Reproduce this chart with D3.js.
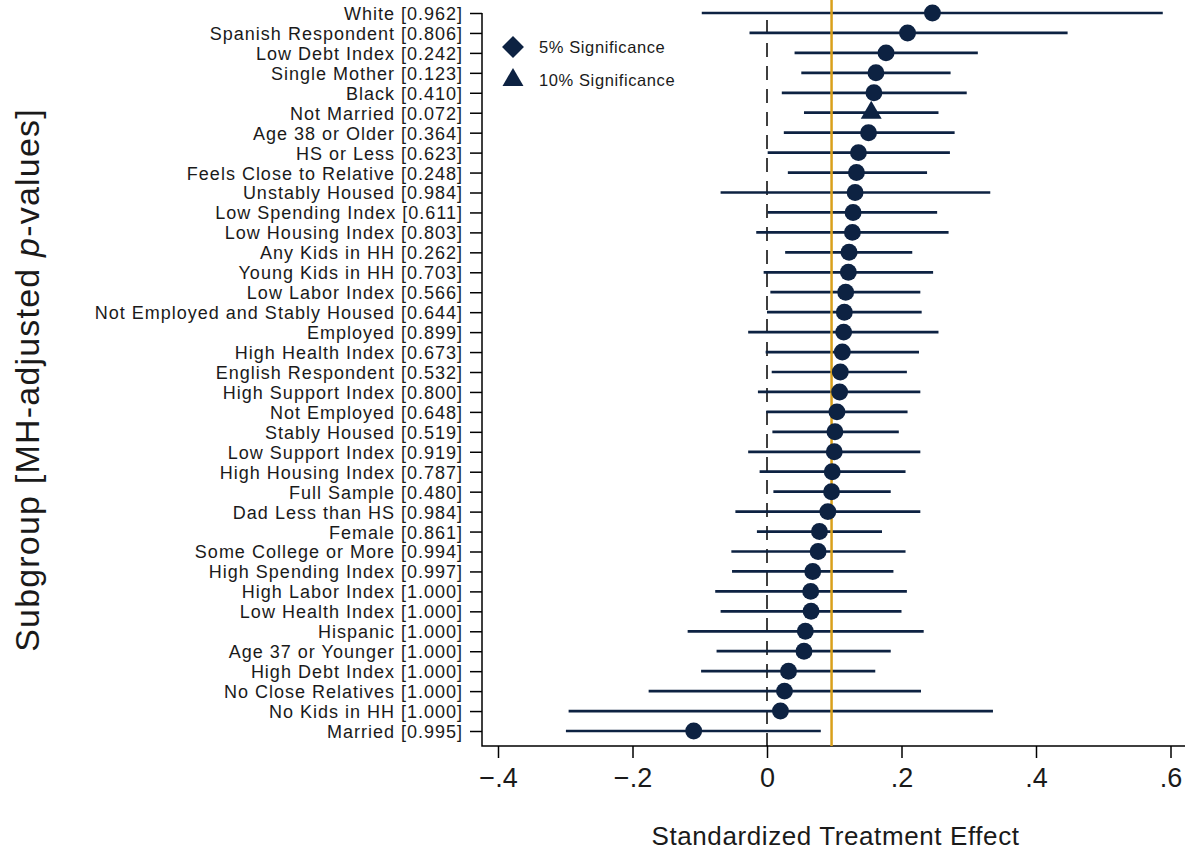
<!DOCTYPE html>
<meta charset="utf-8">
<head>
    <script src="https://d3js.org/d3.v7.min.js"></script>
    <style>
        body { margin: 0; background: #fff; }
        svg text { font-family: "Liberation Sans", Arial, sans-serif; fill: #1a1a1a; }
    </style>
</head>
<body>
<div id="viz"></div>
<script>
    // subgroups, top to bottom
    var groups = ["White", "Spanish Respondent", "Low Debt Index", "Single Mother", "Black", "Not Married",
        "Age 38 or Older", "HS or Less", "Feels Close to Relative", "Unstably Housed", "Low Spending Index",
        "Low Housing Index", "Any Kids in HH", "Young Kids in HH", "Low Labor Index",
        "Not Employed and Stably Housed", "Employed", "High Health Index", "English Respondent",
        "High Support Index", "Not Employed", "Stably Housed", "Low Support Index", "High Housing Index",
        "Full Sample", "Dad Less than HS", "Female", "Some College or More", "High Spending Index",
        "High Labor Index", "Low Health Index", "Hispanic", "Age 37 or Younger", "High Debt Index",
        "No Close Relatives", "No Kids in HH", "Married"];
    var pvals = ["0.962", "0.806", "0.242", "0.123", "0.410", "0.072", "0.364", "0.623", "0.248", "0.984",
        "0.611", "0.803", "0.262", "0.703", "0.566", "0.644", "0.899", "0.673", "0.532", "0.800", "0.648",
        "0.519", "0.919", "0.787", "0.480", "0.984", "0.861", "0.994", "0.997", "1.000", "1.000", "1.000",
        "1.000", "1.000", "1.000", "1.000", "0.995"];
    var estimates = [0.246, 0.209, 0.177, 0.162, 0.159, 0.155, 0.151, 0.136, 0.133, 0.131, 0.128, 0.127,
        0.122, 0.121, 0.117, 0.115, 0.114, 0.112, 0.109, 0.108, 0.104, 0.101, 0.100, 0.097, 0.096, 0.0905,
        0.078, 0.076, 0.068, 0.065, 0.0655, 0.057, 0.055, 0.032, 0.026, 0.020, -0.109];
    var lower = [-0.097, -0.026, 0.041, 0.051, 0.022, 0.055, 0.025, 0.001, 0.031, -0.069, 0.001, -0.016,
        0.027, -0.005, 0.005, 0.0, -0.028, -0.002, 0.007, -0.0135, -0.001, 0.008, -0.028, -0.011, 0.0095,
        -0.047, -0.015, -0.053, -0.052, -0.077, -0.069, -0.118, -0.075, -0.098, -0.176, -0.295, -0.299];
    var upper = [0.5885, 0.447, 0.3135, 0.273, 0.297, 0.255, 0.279, 0.272, 0.238, 0.332, 0.253, 0.270,
        0.216, 0.247, 0.228, 0.230, 0.255, 0.226, 0.208, 0.228, 0.209, 0.196, 0.228, 0.206, 0.184, 0.228,
        0.171, 0.206, 0.188, 0.208, 0.200, 0.233, 0.184, 0.161, 0.229, 0.336, 0.080];
    // marker: "c" = none, "t" = 10% significance
    var markers = ["c", "c", "c", "c", "c", "t", "c", "c", "c", "c", "c", "c", "c", "c", "c", "c", "c", "c",
        "c", "c", "c", "c", "c", "c", "c", "c", "c", "c", "c", "c", "c", "c", "c", "c", "c", "c", "c"];
    var xTicks = [-0.4, -0.2, 0, 0.2, 0.4, 0.6];
    var fullSample = "Full Sample";
    var legendItems = ["5% Significance", "10% Significance"];

    var navy = "#0d2242", gold = "#d9a01b";

    var width = 1194, height = 852;
    var plot = {left: 482, right: 1185, top: 13, bottom: 746};

    var rows = groups.map(function (g, i) {
        return {name: g, label: g + " [" + pvals[i] + "]", est: estimates[i], lo: lower[i], hi: upper[i], m: markers[i]};
    });

    var svg = d3.select("#viz").append("svg")
        .attr("width", width)
        .attr("height", height);

    var x = d3.scaleLinear().domain([-0.4, 0.6]).range([498, 1170.5]);
    var y = d3.scalePoint().domain(rows.map(d => d.label)).range([plot.top, 731]);

    // axes
    var yAxis = svg.append("g")
        .attr("transform", "translate(" + plot.left + ",0)")
        .call(d3.axisLeft(y).tickSize(12).tickPadding(7));
    yAxis.select(".domain").remove();
    yAxis.selectAll("text").style("font-size", "18px").style("letter-spacing", "1px").attr("dy", "0.36em");
    yAxis.selectAll("line").attr("stroke", "#000").attr("stroke-width", 1.5);

    var xAxis = svg.append("g")
        .attr("transform", "translate(0," + plot.bottom + ")")
        .call(d3.axisBottom(x).tickValues(xTicks).tickSize(12).tickPadding(10)
            .tickFormat(function (d) { return d === 0 ? "0" : d3.format(".1f")(d).replace("0.", "."); }));
    xAxis.select(".domain").remove();
    xAxis.selectAll("text").style("font-size", "27px");
    xAxis.selectAll("line").attr("stroke", "#000").attr("stroke-width", 1.5);

    svg.append("path")
        .attr("d", "M" + plot.left + "," + plot.top + "V" + plot.bottom + "H" + plot.right)
        .attr("fill", "none")
        .attr("stroke", "#000")
        .attr("stroke-width", 1.5);

    // zero reference line
    svg.append("line")
        .attr("x1", x(0)).attr("x2", x(0))
        .attr("y1", plot.top + 7).attr("y2", plot.bottom)
        .attr("stroke", "#000")
        .attr("stroke-width", 1.5)
        .attr("stroke-dasharray", "14,9");

    // error bars
    svg.append("g").selectAll("line")
        .data(rows)
        .enter().append("line")
        .attr("x1", d => x(d.lo))
        .attr("x2", d => x(d.hi))
        .attr("y1", d => y(d.label))
        .attr("y2", d => y(d.label))
        .attr("stroke", navy)
        .attr("stroke-width", 2.7);

    // full sample line
    var fs = rows.find(d => d.name === fullSample);
    svg.append("line")
        .attr("x1", x(fs.est)).attr("x2", x(fs.est))
        .attr("y1", plot.top - 13).attr("y2", plot.bottom)
        .attr("stroke", gold)
        .attr("stroke-width", 2.5);

    // point estimates
    svg.append("g").selectAll("path")
        .data(rows)
        .enter().append("path")
        .attr("transform", d => "translate(" + x(d.est) + "," + y(d.label) + ")")
        .attr("d", function (d) {
            return d.m === "t" ? d3.symbol(d3.symbolTriangle, 190)() : d3.symbol(d3.symbolCircle, 225)();
        })
        .attr("fill", navy);

    // legend
    var legend = svg.append("g").attr("transform", "translate(513,47)");
    legend.append("path")
        .attr("d", d3.symbol(d3.symbolSquare, 240)())
        .attr("transform", "rotate(45)")
        .attr("fill", navy);
    legend.append("path")
        .attr("d", d3.symbol(d3.symbolTriangle, 190)())
        .attr("transform", "translate(0,33)")
        .attr("fill", navy);
    legend.selectAll("text")
        .data(legendItems)
        .enter().append("text")
        .attr("x", 26)
        .attr("y", (d, i) => i * 33)
        .attr("dy", "0.36em")
        .style("font-size", "16.5px")
        .style("letter-spacing", "0.6px")
        .text(d => d);

    // axis titles
    svg.append("text")
        .attr("x", (plot.left + plot.right) / 2 + 2)
        .attr("y", 845)
        .attr("text-anchor", "middle")
        .style("font-size", "26px")
        .style("letter-spacing", "0.6px")
        .text("Standardized Treatment Effect");

    var yTitle = svg.append("text")
        .attr("transform", "translate(39,380) rotate(-90)")
        .attr("text-anchor", "middle")
        .style("font-size", "34px")
        .style("letter-spacing", "1.2px");
    yTitle.append("tspan").text("Subgroup [MH-adjusted ");
    yTitle.append("tspan").style("font-style", "italic").text("p");
    yTitle.append("tspan").text("-values]");
</script>
</body>
